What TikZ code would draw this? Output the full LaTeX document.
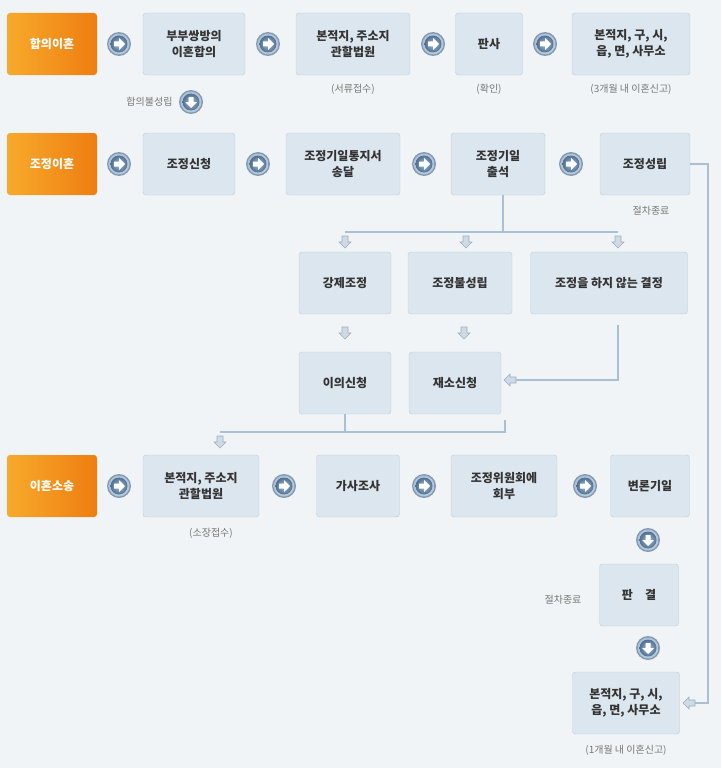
\documentclass[tikz,border=0pt]{standalone}
\usepackage{fontspec}
\setmainfont{Noto Sans CJK KR}
\usetikzlibrary{positioning,calc}
\definecolor{bgc}{HTML}{F1F4F6}
\definecolor{boxc}{HTML}{DCE6EE}
\definecolor{boxline}{HTML}{BCCDDB}
\definecolor{linec}{HTML}{A9C0D3}
\definecolor{txtc}{HTML}{333333}
\definecolor{notec}{HTML}{777777}
\definecolor{orlight}{HTML}{F7AA2C}
\definecolor{ordark}{HTML}{EE7D10}
\definecolor{ballin}{HTML}{A8C0D6}
\definecolor{ballout}{HTML}{4F6F92}
\tikzset{
  step box/.style={draw=boxline, fill=boxc, rounded corners=3pt, align=center,
    text=txtc, font=\fontsize{12}{16}\selectfont\bfseries, minimum height=62pt,
    inner sep=2pt},
  kind box/.style={rounded corners=3pt, left color=orlight, right color=ordark,
    text=white, font=\fontsize{12}{16}\selectfont\bfseries, minimum width=90pt,
    minimum height=62pt},
  note/.style={text=notec, font=\fontsize{10}{12}\selectfont},
  link/.style={draw=linec, line width=1.5pt},
  ballarr/.pic={
    \fill[ballout!70] (0,0) circle (12);
    \shade[inner color=white, outer color=linec] (0,0) circle (10.5);
    \shade[inner color=ballin, outer color=ballout] (0,0) circle (8.5);
    \fill[white] (-5,-2.5) -- (0,-2.5) -- (0,-6) -- (6,0) -- (0,6) -- (0,2.5) -- (-5,2.5) -- cycle;
  },
  hollowarr/.pic={
    \filldraw[fill=boxc!70!linec, draw=linec!70!gray, line width=0.6pt]
      (-3,-6) -- (3,-6) -- (3,0) -- (6,0) -- (0,6) -- (-6,0) -- (-3,0) -- cycle;
  }
}
\begin{document}
\begin{tikzpicture}[x=1pt, y=-1pt]
  \useasboundingbox[fill=bgc] (0,0) rectangle (721,768);

  % first row
  \node[kind box] (k1) at (52,44) {합의이혼};
  \node[step box, minimum width=102pt] (a1) at (194,44) {부부쌍방의\\이혼합의};
  \node[step box, minimum width=114pt] (a2) at (353,44) {본적지, 주소지\\관할법원};
  \node[step box, minimum width=67pt] (a3) at (489,44) {판사};
  \node[step box, minimum width=118pt] (a4) at (631,44) {본적지, 구, 시,\\읍, 면, 사무소};
  \node[note] (n1) at (353,89) {(서류접수)};
  \node[note] (n2) at (489,89) {(확인)};
  \node[note] (n3) at (631,89) {(3개월 내 이혼신고)};
  \pic at (119,44) {ballarr};
  \pic at (268,44) {ballarr};
  \pic at (433,44) {ballarr};
  \pic at (545,44) {ballarr};
  \node[note, anchor=east] (n4) at (176,102) {합의불성립};
  \pic[rotate=-90] at (191,102) {ballarr};

  % second row
  \node[kind box] (k2) at (52,164) {조정이혼};
  \node[step box, minimum width=92pt] (b1) at (189,164) {조정신청};
  \node[step box, minimum width=114pt] (b2) at (343,164) {조정기일통지서\\송달};
  \node[step box, minimum width=94pt] (b3) at (498,164) {조정기일\\출석};
  \node[step box, minimum width=90pt] (b4) at (645,164) {조정성립};
  \node[note] (n5) at (651,211) {절차종료};
  \pic at (119,164) {ballarr};
  \pic at (258,164) {ballarr};
  \pic at (424,164) {ballarr};
  \pic at (571,164) {ballarr};

  % mediation results
  \node[step box, minimum width=92pt] (c1) at (345,283) {강제조정};
  \node[step box, minimum width=104pt] (c2) at (460,283) {조정불성립};
  \node[step box, minimum width=157pt] (c3) at (609,283) {조정을 하지 않는 결정};
  \node[step box, minimum width=92pt] (d1) at (345,383) {이의신청};
  \node[step box, minimum width=92pt] (d2) at (455,383) {재소신청};
  \coordinate (s0) at (345,232);
  \coordinate (s1) at (618,232);
  \draw[link] ($(b3.south)+(5,0)$) -- (503,232);
  \draw[link] (s0) -- (s1);
  \pic at (345,242) {hollowarr};
  \pic at (466,242) {hollowarr};
  \pic at (618,242) {hollowarr};
  \pic at (345,333) {hollowarr};
  \pic at (464,333) {hollowarr};
  \draw[link] (618,325) |- (514,380);
  \pic[rotate=-90] at (510,380) {hollowarr};
  \draw[link] (d1.south) -- (345,432) -- (505,432) -- (505,420);
  \draw[link] (345,432) -- (220,432);
  \pic at (220,442) {hollowarr};

  % third row
  \node[kind box] (k3) at (52,486) {이혼소송};
  \node[step box, minimum width=116pt] (e1) at (201,486) {본적지, 주소지\\관할법원};
  \node[step box, minimum width=83pt] (e2) at (358,486) {가사조사};
  \node[step box, minimum width=106pt] (e3) at (504,486) {조정위원회에\\회부};
  \node[step box, minimum width=79pt] (e4) at (650,486) {변론기일};
  \node[note] (n6) at (211,533) {(소장접수)};
  \pic at (119,486) {ballarr};
  \pic at (284,486) {ballarr};
  \pic at (424,486) {ballarr};
  \pic at (585,486) {ballarr};
  \pic[rotate=-90] at (648,540) {ballarr};
  \node[step box, minimum width=79pt] (f1) at (639,595) {판\quad 결};
  \node[note] (n7) at (563,600) {절차종료};
  \pic[rotate=-90] at (648,648) {ballarr};
  \node[step box, minimum width=107pt] (f2) at (626,703) {본적지, 구, 시,\\읍, 면, 사무소};
  \node[note] (n8) at (626,750) {(1개월 내 이혼신고)};

  % settled mediation to registration
  \draw[link] (b4.east) -| (708,703) -- (694,703);
  \pic[rotate=-90] at (689,703) {hollowarr};
\end{tikzpicture}
\end{document}
